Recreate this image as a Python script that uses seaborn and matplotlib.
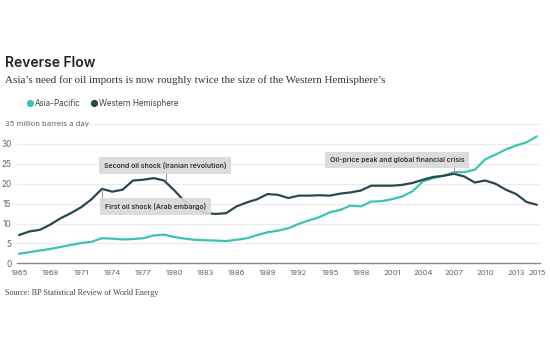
import matplotlib
matplotlib.use("Agg")
import matplotlib.pyplot as plt
import matplotlib.transforms as mtransforms
import seaborn as sns
import pandas as pd

years = list(range(1965, 2016))
asia_pacific = [2.4, 2.8, 3.2, 3.6, 4.1, 4.6, 5.1, 5.4, 6.3, 6.2,
                6.0, 6.1, 6.3, 7.0, 7.2, 6.6, 6.2, 5.9, 5.8, 5.7,
                5.6, 5.9, 6.3, 7.1, 7.8, 8.2, 8.8, 9.9, 10.8, 11.6,
                12.8, 13.4, 14.5, 14.3, 15.5, 15.6, 16.1, 16.8, 18.1, 20.6,
                21.4, 22.0, 22.9, 22.9, 23.5, 26.1, 27.3, 28.6, 29.6, 30.4,
                31.9]
western_hemisphere = [7.1, 8.0, 8.4, 9.7, 11.3, 12.6, 14.1, 16.1, 18.7, 18.0,
                      18.5, 20.8, 21.0, 21.4, 20.8, 18.3, 15.5, 13.9, 12.6, 12.4,
                      12.6, 14.3, 15.3, 16.1, 17.4, 17.2, 16.4, 17.0, 17.0, 17.1,
                      17.0, 17.5, 17.8, 18.3, 19.5, 19.5, 19.5, 19.7, 20.2, 21.0,
                      21.7, 22.0, 22.5, 21.8, 20.3, 20.8, 20.0, 18.5, 17.4, 15.4,
                      14.7]
series_names = ["Asia-Pacific", "Western Hemisphere"]
colors = ["#3cc4b0", "#2b4750"]
xtick_years = [1965, 1968, 1971, 1974, 1977, 1980, 1983, 1986, 1989, 1992,
               1995, 1998, 2001, 2004, 2007, 2010, 2013, 2015]
ytick_vals = [0, 5, 10, 15, 20, 25, 30]
annotations = [
    ("Second oil shock (Iranian revolution)", 1979.1, 24.6, 1979.2, 20.8),
    ("First oil shock (Arab embargo)", 1978.2, 14.3, 1973.0, 18.7),
    ("Oil-price peak and global financial crisis", 2001.5, 25.9, 2007.0, 22.6),
]

df = pd.DataFrame({
    "year": years * 2,
    "value": asia_pacific + western_hemisphere,
    "region": [series_names[0]] * len(years) + [series_names[1]] * len(years),
})

sns.set_style("white")
plt.rcParams["font.family"] = ["Inter", "DejaVu Sans"]

fig = plt.figure(figsize=(5.5, 3.51), dpi=100)
ax = fig.add_axes([17 / 550, (351 - 263.3) / 351, 523 / 550, (263.3 - 124) / 351])

sns.lineplot(data=df, x="year", y="value", hue="region", palette=colors,
             hue_order=series_names, linewidth=1.6, ax=ax, legend=False)

ax.set_xlim(1964.8, 2015.3)
ax.set_ylim(0, 35)
ax.set_xlabel("")
ax.set_ylabel("")

# grid
for v in [5, 10, 15, 20, 25, 30]:
    ax.axhline(v, color="#ebebeb", lw=0.8, zorder=0)
ax.plot([1971.1, 2015.3], [35, 35], color="#ebebeb", lw=0.8, zorder=0, clip_on=False)

for s in ["top", "right", "left"]:
    ax.spines[s].set_visible(False)
ax.spines["bottom"].set_color("#888888")
ax.spines["bottom"].set_linewidth(1.0)

ax.set_xticks(xtick_years)
ax.set_xticklabels([str(y) for y in xtick_years], fontsize=5.5, color="#666666")
ax.tick_params(axis="x", direction="inout", length=4, width=0.8, color="#888888", pad=3)
ax.set_yticks(ytick_vals)
ax.set_yticklabels([str(v) for v in ytick_vals], fontsize=6, color="#666666")
ax.tick_params(axis="y", length=0, pad=4)

ax.text(5 / 550, 35, "35 million barrels a day",
        transform=mtransforms.blended_transform_factory(fig.transFigure, ax.transData),
        fontsize=5.5, color="#666666", ha="left", va="center")

# annotations
for label, tx, ty, px, py in annotations:
    ax.plot([px, px], [py, ty], color="#999999", lw=0.7, zorder=3)
    ax.text(tx, ty, label, fontsize=5.0, color="#333333", ha="center", va="center",
            fontweight="semibold", zorder=4,
            bbox=dict(boxstyle="square,pad=0.7", facecolor="#d9d9d9", edgecolor="none", alpha=0.9))

# legend
for i, (name, c) in enumerate(zip(series_names, colors)):
    x0 = [25, 89][i] / 550
    fig.text(x0, 1 - 104 / 351, "\u25cf", color=c, fontsize=7, ha="left", va="center")
    fig.text(x0 + 10 / 550, 1 - 104 / 351, name, color="#444444", fontsize=5.8, ha="left", va="center")

fig.text(5 / 550, 1 - 63 / 351, "Reverse Flow", fontsize=10, color="#222222",
         fontweight="semibold", ha="left", va="center")
fig.text(5 / 550, 1 - 80 / 351,
         "Asia\u2019s need for oil imports is now roughly twice the size of the Western Hemisphere\u2019s",
         fontsize=7.9, family=["Liberation Serif"], color="#333333", ha="left", va="center")
fig.text(5 / 550, 1 - 293 / 351, "Source: BP Statistical Review of World Energy",
         fontsize=5.9, family=["Liberation Serif"], color="#444444", ha="left", va="center")

fig.savefig("out.png", dpi=100, facecolor="white")
